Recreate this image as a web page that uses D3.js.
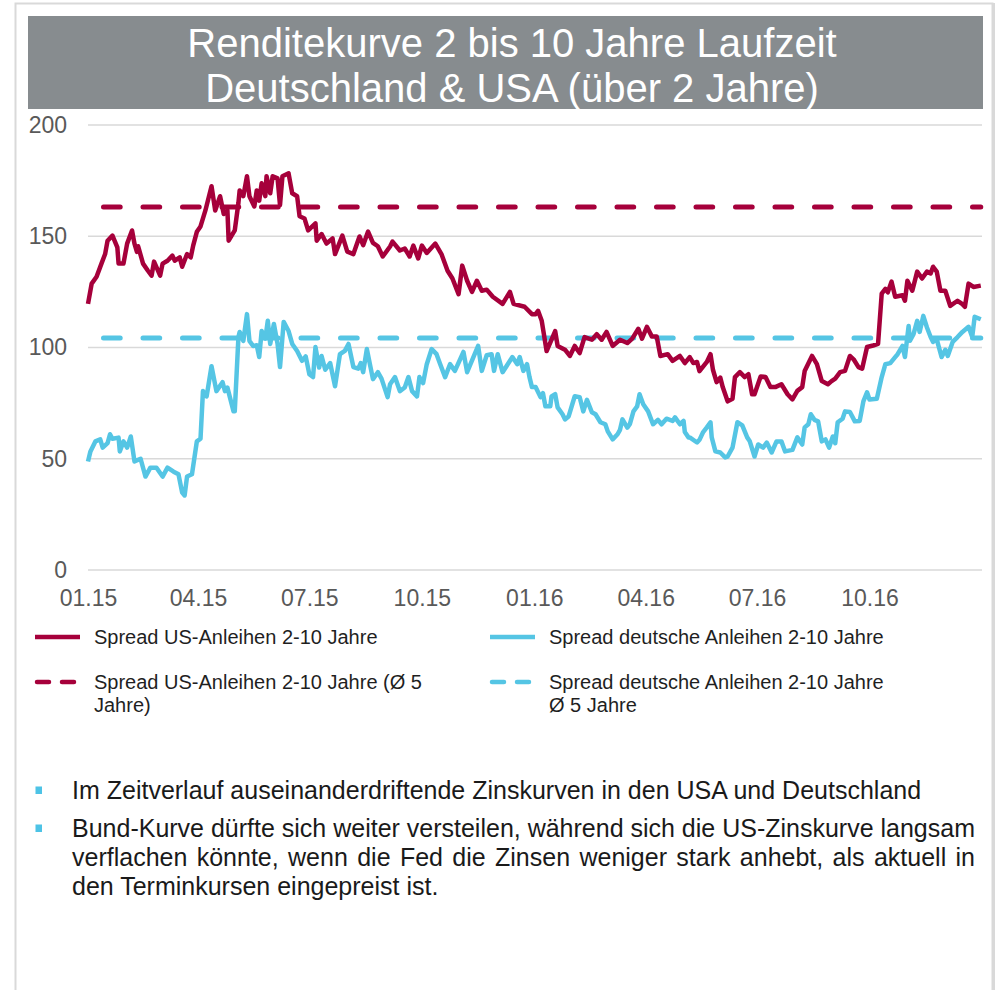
<!DOCTYPE html>
<html>
<head>
<meta charset="utf-8">
<script src="https://cdn.jsdelivr.net/npm/d3@7"></script>
<style>
  html, body { margin: 0; padding: 0; background: #fff; }
  svg { display: block; }
  text { font-family: "Liberation Sans", Arial, Helvetica, sans-serif; }
</style>
</head>
<body>
<svg id="chart" width="997" height="990"></svg>
<script>
// ---------------- data ----------------
const titleLines = ["Renditekurve 2 bis 10 Jahre Laufzeit", "Deutschland & USA (über 2 Jahre)"];
const yTicks = [0, 50, 100, 150, 200];
const xTickDates = ["2015-01-01","2015-04-01","2015-07-01","2015-10-01","2016-01-01","2016-04-01","2016-07-01","2016-10-01"];
const xDomain = ["2015-01-01", "2017-01-01"];

const usSpread = [
["2015-01-01",119.6],["2015-01-04",128.7],["2015-01-08",131.8],["2015-01-12",137.7],["2015-01-15",142],["2015-01-17",148],["2015-01-21",150.3],["2015-01-25",145],["2015-01-26",137.7],["2015-01-30",137.7],["2015-02-02",146.7],["2015-02-06",152.6],["2015-02-08",146.7],["2015-02-10",143],["2015-02-11",145.5],["2015-02-15",137.7],["2015-02-19",134.5],["2015-02-22",132.3],["2015-02-24",138.6],["2015-03-01",132.3],["2015-03-03",137.7],["2015-03-07",139],["2015-03-11",141.3],["2015-03-13",139],["2015-03-17",140.5],["2015-03-19",136.3],["2015-03-23",142],["2015-03-26",140.5],["2015-03-28",145.8],["2015-03-31",152],["2015-04-03",154.4],["2015-04-05",158],["2015-04-07",161.6],["2015-04-12",172.5],["2015-04-15",161.6],["2015-04-19",168],["2015-04-22",160],["2015-04-25",161.6],["2015-04-26",148],["2015-05-01",152.6],["2015-05-04",165],["2015-05-05",170.6],["2015-05-08",168],["2015-05-11",177],["2015-05-13",168],["2015-05-17",163.4],["2015-05-19",170.6],["2015-05-21",166],["2015-05-23",173.8],["2015-05-26",168],["2015-05-27",177],["2015-05-30",169.3],["2015-06-01",177],["2015-06-05",176],["2015-06-07",164],["2015-06-09",177],["2015-06-14",178.3],["2015-06-17",169.3],["2015-06-21",168],["2015-06-23",159],["2015-06-27",158],["2015-06-30",152.6],["2015-07-06",155.8],["2015-07-07",148],["2015-07-11",151],["2015-07-15",146.7],["2015-07-20",149],["2015-07-22",142],["2015-07-28",150.3],["2015-08-01",143.1],["2015-08-06",142],["2015-08-11",149.9],["2015-08-14",146],["2015-08-18",152.1],["2015-08-22",147],["2015-08-26",145.5],["2015-08-30",140.9],["2015-09-05",145.4],["2015-09-07",147.6],["2015-09-13",143.6],["2015-09-17",144.5],["2015-09-21",140.9],["2015-09-24",145.8],["2015-09-28",140],["2015-10-01",145.8],["2015-10-05",142.5],["2015-10-12",146.7],["2015-10-17",142],["2015-10-22",134.5],["2015-10-26",131],["2015-10-31",124],["2015-11-03",136.8],["2015-11-07",130],["2015-11-11",125],["2015-11-15",130],["2015-11-19",125.5],["2015-11-23",126],["2015-11-28",122.8],["2015-12-06",119.6],["2015-12-12",125],["2015-12-15",119.6],["2015-12-24",118.3],["2015-12-30",115],["2016-01-02",115],["2016-01-04",116.5],["2016-01-07",112],["2016-01-11",98.4],["2016-01-18",107.4],["2016-01-20",100.7],["2016-01-26",99],["2016-01-30",96.2],["2016-02-03",100.7],["2016-02-07",97.5],["2016-02-11",104.7],["2016-02-17",103.5],["2016-02-21",106],["2016-02-25",103.5],["2016-02-29",107],["2016-03-05",100.7],["2016-03-11",103.5],["2016-03-17",102],["2016-03-21",104],["2016-03-26",108.4],["2016-03-29",104],["2016-04-02",109.3],["2016-04-06",105],["2016-04-10",105],["2016-04-13",96.2],["2016-04-19",97],["2016-04-23",94],["2016-04-29",96.2],["2016-05-03",93],["2016-05-07",95.7],["2016-05-10",93],["2016-05-13",93.5],["2016-05-15",89.4],["2016-05-21",93.5],["2016-05-24",97],["2016-05-26",90],["2016-05-29",84.4],["2016-06-01",86.5],["2016-06-03",82.2],["2016-06-07",75.8],["2016-06-11",77],["2016-06-13",86.7],["2016-06-17",88.9],["2016-06-21",86.7],["2016-06-24",88],["2016-06-27",79],["2016-06-29",79],["2016-07-04",87],["2016-07-08",86.7],["2016-07-12",82.2],["2016-07-16",82.2],["2016-07-21",83.5],["2016-07-26",79],["2016-07-30",76.7],["2016-08-03",80.5],["2016-08-07",82.2],["2016-08-09",89.4],["2016-08-15",96.2],["2016-08-19",92.5],["2016-08-23",84.9],["2016-08-28",83.5],["2016-08-31",84.9],["2016-09-03",86],["2016-09-07",88.9],["2016-09-11",89.5],["2016-09-15",96.2],["2016-09-18",94.7],["2016-09-22",91.2],["2016-09-25",90.5],["2016-09-29",100.2],["2016-10-04",100.9],["2016-10-08",101.6],["2016-10-11",124.2],["2016-10-14",126.4],["2016-10-16",124.8],["2016-10-19",129.6],["2016-10-22",122.8],["2016-10-28",123.5],["2016-10-30",121],["2016-11-01",130],["2016-11-05",125.5],["2016-11-09",134.1],["2016-11-13",131],["2016-11-17",134.1],["2016-11-20",133.3],["2016-11-22",136.3],["2016-11-25",134.1],["2016-11-28",125.5],["2016-12-02",125.5],["2016-12-06",118.7],["2016-12-12",121],["2016-12-16",119.5],["2016-12-18",118.3],["2016-12-21",128.7],["2016-12-25",127.2],["2016-12-31",127.8]
];

const deSpread = [
["2015-01-01",48.8],["2015-01-03",53.3],["2015-01-07",57.8],["2015-01-11",58.7],["2015-01-13",55],["2015-01-17",57],["2015-01-19",61],["2015-01-21",59],["2015-01-26",59.5],["2015-01-27",53.3],["2015-01-30",57.8],["2015-02-02",55],["2015-02-05",60],["2015-02-08",48.8],["2015-02-13",50],["2015-02-17",42],["2015-02-21",46],["2015-02-26",46],["2015-03-03",42],["2015-03-07",46],["2015-03-12",44.2],["2015-03-16",43],["2015-03-19",34.8],["2015-03-21",33.5],["2015-03-23",42],["2015-03-27",43],["2015-03-31",57.8],["2015-04-03",59],["2015-04-05",80.4],["2015-04-08",78],["2015-04-12",91.6],["2015-04-16",80.4],["2015-04-21",84.4],["2015-04-23",80.4],["2015-04-25",82],["2015-04-27",77.7],["2015-04-30",71.3],["2015-05-01",71.3],["2015-05-04",104.7],["2015-05-05",107],["2015-05-08",103],["2015-05-11",115],["2015-05-13",103],["2015-05-16",100.7],["2015-05-19",101],["2015-05-21",95.7],["2015-05-23",107.4],["2015-05-26",104],["2015-05-28",112],["2015-05-30",101.6],["2015-06-02",110.6],["2015-06-05",101.6],["2015-06-07",91.2],["2015-06-10",111.5],["2015-06-14",107.4],["2015-06-17",101.6],["2015-06-21",98.4],["2015-06-25",94],["2015-06-28",96],["2015-07-01",88],["2015-07-04",86.7],["2015-07-06",100.2],["2015-07-09",91],["2015-07-11",96.2],["2015-07-14",90],["2015-07-18",93],["2015-07-22",82.6],["2015-07-26",97],["2015-07-30",98.5],["2015-08-02",101.6],["2015-08-06",91.2],["2015-08-10",90.5],["2015-08-12",93],["2015-08-14",88.9],["2015-08-17",99.3],["2015-08-20",91.2],["2015-08-22",85.8],["2015-08-26",88.9],["2015-08-29",86],["2015-09-03",77.7],["2015-09-05",83.5],["2015-09-09",86.7],["2015-09-13",80.4],["2015-09-17",82],["2015-09-20",86.7],["2015-09-23",80.4],["2015-09-27",78],["2015-09-29",86.7],["2015-10-02",84],["2015-10-05",92.5],["2015-10-09",99.3],["2015-10-13",97],["2015-10-16",92.5],["2015-10-20",86.7],["2015-10-24",92.5],["2015-10-28",89.5],["2015-11-04",98],["2015-11-07",88.9],["2015-11-16",100.7],["2015-11-19",89.5],["2015-11-23",96.5],["2015-11-27",97],["2015-11-29",89.5],["2015-12-02",97],["2015-12-06",88.9],["2015-12-14",95.7],["2015-12-18",92.5],["2015-12-20",95.7],["2015-12-23",89.5],["2015-12-26",92.5],["2015-12-28",86.7],["2015-12-30",82.2],["2016-01-02",82.2],["2016-01-06",77.7],["2016-01-08",79.5],["2016-01-10",73.6],["2016-01-14",73.6],["2016-01-15",78],["2016-01-18",79],["2016-01-20",73.1],["2016-01-24",70],["2016-01-26",67.7],["2016-01-29",69],["2016-02-01",74.5],["2016-02-03",78.1],["2016-02-07",77.7],["2016-02-10",71.3],["2016-02-13",76.5],["2016-02-17",70.9],["2016-02-20",70],["2016-02-24",66.4],["2016-02-28",65.5],["2016-03-01",62.3],["2016-03-05",58.7],["2016-03-09",61],["2016-03-11",63],["2016-03-13",67.7],["2016-03-17",64],["2016-03-19",65.5],["2016-03-22",71.3],["2016-03-25",73.5],["2016-03-27",79],["2016-03-30",74.5],["2016-04-03",71.3],["2016-04-07",65.5],["2016-04-11",67.5],["2016-04-14",65.5],["2016-04-18",68],["2016-04-23",67],["2016-04-25",68.6],["2016-04-29",65.5],["2016-05-02",67],["2016-05-03",62],["2016-05-06",59.6],["2016-05-07",59.6],["2016-05-13",57.3],["2016-05-15",58.5],["2016-05-18",62],["2016-05-21",64.1],["2016-05-24",66.4],["2016-05-25",59.6],["2016-05-28",53.3],["2016-06-01",52.8],["2016-06-05",50.6],["2016-06-07",51],["2016-06-11",55],["2016-06-15",66.4],["2016-06-19",65],["2016-06-23",59.6],["2016-06-25",58],["2016-06-29",51],["2016-07-02",56.4],["2016-07-06",55],["2016-07-09",57.3],["2016-07-13",52.8],["2016-07-17",57.8],["2016-07-21",57.8],["2016-07-24",53.3],["2016-07-30",54],["2016-08-03",59.6],["2016-08-07",56.4],["2016-08-09",64.1],["2016-08-12",65.5],["2016-08-14",70],["2016-08-17",67.5],["2016-08-20",66.8],["2016-08-23",57.8],["2016-08-26",58.7],["2016-08-29",55],["2016-09-01",60],["2016-09-03",57],["2016-09-05",66.4],["2016-09-09",68],["2016-09-11",71.3],["2016-09-15",71],["2016-09-19",66.8],["2016-09-23",67],["2016-09-26",75.8],["2016-09-29",79.9],["2016-10-01",76.6],["2016-10-07",77],["2016-10-11",86.7],["2016-10-14",92.5],["2016-10-18",93],["2016-10-22",95.7],["2016-10-24",97],["2016-10-28",100.7],["2016-10-30",95.7],["2016-11-02",109.7],["2016-11-03",103],["2016-11-06",106],["2016-11-09",112],["2016-11-11",107],["2016-11-14",114.2],["2016-11-17",109],["2016-11-20",104.7],["2016-11-22",102.5],["2016-11-25",104],["2016-11-26",101.6],["2016-11-29",95.7],["2016-12-02",99],["2016-12-04",96.2],["2016-12-08",102.5],["2016-12-12",104.7],["2016-12-16",107],["2016-12-21",109.3],["2016-12-24",104.7],["2016-12-26",113.8],["2016-12-31",112.7]
];

const usAverage = 163.2;   // Ø 5 Jahre
const deAverage = 104.3;   // Ø 5 Jahre

const legendLabels = [
  ["Spread US-Anleihen 2-10 Jahre"],
  ["Spread deutsche Anleihen 2-10 Jahre"],
  ["Spread US-Anleihen 2-10 Jahre (Ø 5", "Jahre)"],
  ["Spread deutsche Anleihen 2-10 Jahre", "Ø 5 Jahre"]
];

const bulletPoints = [
  ["Im Zeitverlauf auseinanderdriftende Zinskurven in den USA und Deutschland"],
  ["Bund-Kurve dürfte sich weiter versteilen, während sich die US-Zinskurve langsam",
   "verflachen könnte, wenn die Fed die Zinsen weniger stark anhebt, als aktuell in",
   "den Terminkursen eingepreist ist."]
];

// ---------------- styles / layout ----------------
const COL_US = "#A6003B";
const COL_DE = "#55C5E4";
const parse = d3.timeParse("%Y-%m-%d");
const svg = d3.select("#chart");

// outer frame
svg.append("rect").attr("x", 15.5).attr("y", 3.5).attr("width", 977).attr("height", 1000)
  .attr("fill", "none").attr("stroke", "#d9d9d9").attr("stroke-width", 2);
svg.append("line").attr("x1", 993.5).attr("x2", 993.5).attr("y1", 3).attr("y2", 990)
  .attr("stroke", "#d9d9d9").attr("stroke-width", 3);

// title bar
svg.append("rect").attr("x", 28).attr("y", 16).attr("width", 955).attr("height", 93)
  .attr("fill", "#878C8F");
svg.append("g").selectAll("text").data(titleLines).join("text")
  .attr("x", 512).attr("y", (d, i) => 57 + i * 45)
  .attr("text-anchor", "middle").attr("fill", "#ffffff")
  .style("font-size", "40px").text(d => d);

// scales
const x = d3.scaleTime().domain(xDomain.map(parse)).range([88, 982]);
const y = d3.scaleLinear().domain([0, 200]).range([570, 125]);

// gridlines
svg.append("g").selectAll("line").data(yTicks).join("line")
  .attr("x1", 88).attr("x2", 982)
  .attr("y1", d => y(d)).attr("y2", d => y(d))
  .attr("stroke", "#d9d9d9").attr("stroke-width", 1.5);

// y axis
const yAxis = svg.append("g").attr("transform", "translate(88,0)")
  .call(d3.axisLeft(y).tickValues(yTicks).tickSize(0).tickPadding(21));
yAxis.select(".domain").remove();
yAxis.selectAll("text").attr("fill", "#595959").style("font-size", "23px")
  .style("font-family", '"Liberation Sans", Arial, sans-serif');

// x axis
const xAxis = svg.append("g").attr("transform", "translate(0,570)")
  .call(d3.axisBottom(x).tickValues(xTickDates.map(parse))
    .tickFormat(d3.timeFormat("%m.%y")).tickSize(0).tickPadding(20));
xAxis.select(".domain").remove();
xAxis.selectAll("text").attr("fill", "#595959").style("font-size", "23px")
  .style("font-family", '"Liberation Sans", Arial, sans-serif');

// lines
const line = d3.line().x(d => x(parse(d[0]))).y(d => y(d[1]));
const endDate = usSpread[usSpread.length - 1][0];
const avgSeries = [
  { v: usAverage, c: COL_US },
  { v: deAverage, c: COL_DE }
];
svg.append("g").selectAll("path").data(avgSeries).join("path")
  .attr("d", d => line([[xDomain[0], d.v], [endDate, d.v]]))
  .attr("fill", "none").attr("stroke", d => d.c).attr("stroke-width", 5)
  .attr("stroke-linecap", "round")
  .attr("stroke-dasharray", "16.7,22.8").attr("stroke-dashoffset", 24);

svg.append("path").datum(deSpread).attr("d", line)
  .attr("fill", "none").attr("stroke", COL_DE).attr("stroke-width", 4.5)
  .attr("stroke-linejoin", "round");
svg.append("path").datum(usSpread).attr("d", line)
  .attr("fill", "none").attr("stroke", COL_US).attr("stroke-width", 4.5)
  .attr("stroke-linejoin", "round");

// legend
const legendStyles = [
  { c: COL_US, dashed: false }, { c: COL_DE, dashed: false },
  { c: COL_US, dashed: true }, { c: COL_DE, dashed: true }
];
const lg = svg.append("g").selectAll("g").data(legendLabels).join("g")
  .attr("transform", (d, i) => `translate(${i % 2 === 0 ? 35 : 490},${i < 2 ? 637 : 682})`);
lg.append("line")
  .attr("x1", (d, i) => legendStyles[i].dashed ? 2 : 0)
  .attr("x2", (d, i) => legendStyles[i].dashed ? 43 : 45)
  .attr("y1", 0).attr("y2", 0)
  .attr("stroke", (d, i) => legendStyles[i].c).attr("stroke-width", 4.5)
  .attr("stroke-linecap", (d, i) => legendStyles[i].dashed ? "round" : "butt")
  .attr("stroke-dasharray", (d, i) => legendStyles[i].dashed ? "12,13" : null);
lg.each(function(d) {
  const g = d3.select(this);
  d.forEach((t, k) => {
    g.append("text").attr("x", 59).attr("y", 7 + k * 23)
      .attr("fill", "#1f1f1f").style("font-size", "20px").text(t);
  });
});

// bullets
let by = 799;
const bg = svg.append("g");
bulletPoints.forEach((para, pi) => {
  if (pi > 0) by += 9;
  bg.append("rect").attr("x", 35.5).attr("y", by - 12.5).attr("width", 6.5).attr("height", 7.5)
    .attr("fill", "#4DC3E6");
  para.forEach((t, li) => {
    const txt = bg.append("text").attr("x", 72).attr("y", by)
      .attr("fill", "#1a1a1a").style("font-size", "25px").text(t);
    if (li < para.length - 1) {
      const len = txt.node().getComputedTextLength();
      const spaces = (t.match(/ /g) || []).length;
      if (spaces > 0) txt.style("word-spacing", ((975 - 72 - len) / spaces) + "px");
    }
    by += 29;
  });
});
</script>
</body>
</html>
